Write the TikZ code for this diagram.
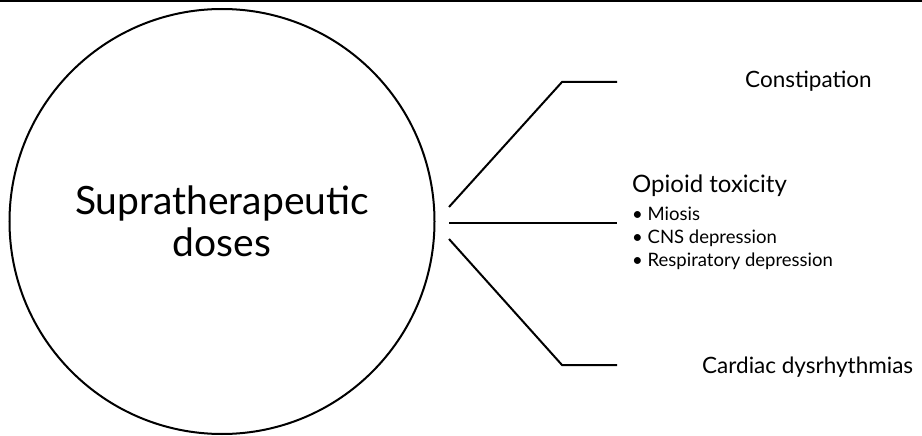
\documentclass[tikz,border=0pt]{standalone}
\usepackage{fontspec}
\setmainfont{Lato}
\usetikzlibrary{positioning}

\begin{document}
\begin{tikzpicture}
[ x=1pt, y=-1pt,
  branch/.style={ line width=2pt, line join=miter },
  effect/.style={ inner sep=0pt, anchor=base west, font=\fontsize{22.5}{26}\selectfont },
  symptoms/.style={ inner sep=0pt, anchor=base west, align=left, font=\fontsize{18.5}{23}\selectfont }
]
\useasboundingbox (0,0) rectangle (922,436);
\draw[line width=2pt] (0,1) -- (922,1);
%\draw[help lines, step=50] (0,0) grid (922,436);

\node[draw, circle, line width=2pt, minimum size=425pt, inner sep=0pt,
      align=center, font=\fontsize{39}{42}\selectfont] (dose) at (222,221.5)
      {Supratherapeutic\\doses};

\coordinate (up) at (449,207);
\coordinate (mid) at (449,223);
\coordinate (low) at (449,239);
\coordinate (upk) at (562,82);
\coordinate (lowk) at (562,365);
\coordinate (upe) at (617,82);
\coordinate (mide) at (617,223);
\coordinate (lowe) at (617,365);

\draw[branch] (up) -- (upk) -- (upe);
\draw[branch] (mid) -- (mide);
\draw[branch] (low) -- (lowk) -- (lowe);

\node[effect] (const) at (745,88) {Constipation};
\node[effect, font=\fontsize{24}{26}\selectfont] (tox) at (632,192) {Opioid toxicity};
% base of a multi-line node is its last line
\node[symptoms] (signs) at (632,266)
  {\textbullet{} Miosis\\ \textbullet{} CNS depression\\ \textbullet{} Respiratory depression};
\node[effect] (card) at (702,373) {Cardiac dysrhythmias};
\end{tikzpicture}
\end{document}
